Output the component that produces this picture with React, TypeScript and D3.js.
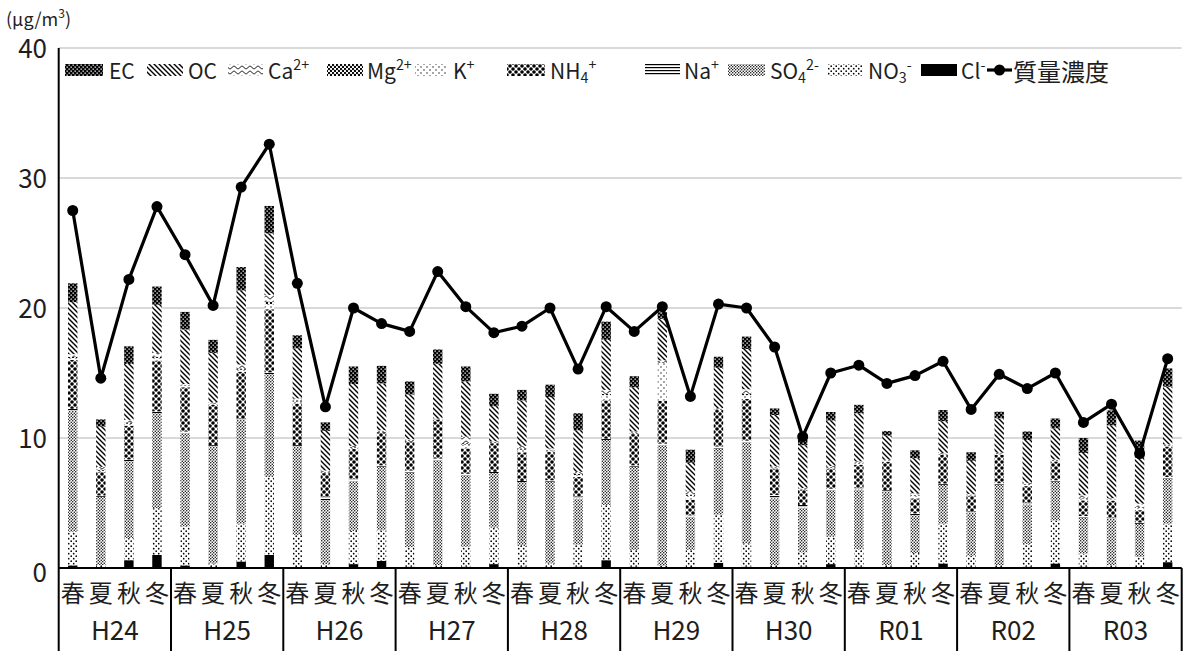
import React from 'react';
import * as d3 from 'd3';

// Season and fiscal-year labels for the two-level category axis
const seasons = ['春', '夏', '秋', '冬'];
const years = ['H24', 'H25', 'H26', 'H27', 'H28', 'H29', 'H30', 'R01', 'R02', 'R03'];
const yTicks = [0, 10, 20, 30, 40];

// Component concentrations (µg/m³), one value per season, H24 spring → R03 winter
const cl = [0.2, 0.03, 0.6, 1.0, 0.2, 0.05, 0.5, 1.0, 0.05, 0.0, 0.3, 0.55, 0.1, 0.02, 0.1, 0.3, 0.1, 0.05, 0.1, 0.6, 0.1, 0.02, 0.05, 0.4, 0.1, 0.02, 0.1, 0.3, 0.1, 0.03, 0.05, 0.35, 0.05, 0.02, 0.1, 0.35, 0.1, 0.02, 0.05, 0.45];
const no3 = [2.6, 0.2, 1.7, 3.6, 3.0, 0.3, 2.9, 6.0, 2.5, 0.3, 2.55, 2.35, 1.5, 0.2, 1.55, 2.8, 1.6, 0.3, 1.7, 4.25, 1.3, 0.15, 1.35, 3.7, 1.8, 0.2, 1.1, 2.1, 1.35, 0.2, 1.1, 3.05, 0.9, 0.2, 1.75, 3.3, 1.0, 0.2, 0.8, 2.95];
const so4 = [9.3, 5.25, 5.9, 7.3, 7.2, 9.0, 8.0, 7.9, 6.8, 4.9, 3.85, 4.9, 5.75, 8.1, 5.5, 4.2, 4.9, 6.3, 3.55, 5.0, 6.4, 9.3, 2.55, 5.1, 7.8, 5.15, 3.45, 3.6, 4.6, 5.65, 2.9, 3.0, 3.3, 6.2, 3.05, 3.0, 2.8, 3.55, 2.55, 3.5];
const na = [0.15, 0.1, 0.15, 0.15, 0.1, 0.1, 0.1, 0.15, 0.1, 0.3, 0.15, 0.1, 0.15, 0.1, 0.1, 0.1, 0.1, 0.1, 0.15, 0.1, 0.1, 0.1, 0.1, 0.15, 0.1, 0.25, 0.2, 0.1, 0.1, 0.1, 0.15, 0.1, 0.1, 0.1, 0.1, 0.1, 0.1, 0.1, 0.1, 0.1];
const nh4 = [3.75, 1.8, 2.6, 3.9, 3.4, 3.1, 3.6, 4.85, 3.2, 1.8, 2.3, 2.55, 2.25, 3.0, 1.95, 2.2, 2.2, 2.2, 1.5, 2.95, 2.4, 3.3, 1.2, 2.8, 3.2, 2.0, 1.15, 1.55, 1.8, 2.2, 1.15, 2.2, 1.2, 2.2, 1.3, 1.45, 1.2, 1.3, 0.95, 2.35];
const k = [0.15, 0.1, 0.15, 0.2, 0.1, 0.05, 0.15, 0.4, 0.15, 0.05, 0.1, 0.05, 0.05, 0.02, 0.3, 0.05, 0.2, 0.1, 0.15, 0.4, 0.05, 2.9, 0.3, 0.05, 0.3, 0.05, 0.05, 0.05, 0.1, 0.05, 0.2, 0.05, 0.05, 0.05, 0.1, 0.05, 0.15, 0.05, 0.2, 0.05];
const mg = [0.1, 0.1, 0.1, 0.1, 0.05, 0.05, 0.1, 0.2, 0.1, 0.05, 0.05, 0.05, 0.05, 0.02, 0.1, 0.05, 0.1, 0.05, 0.1, 0.1, 0.05, 0.05, 0.1, 0.05, 0.1, 0.05, 0.05, 0.05, 0.05, 0.05, 0.05, 0.05, 0.05, 0.05, 0.05, 0.05, 0.05, 0.05, 0.05, 0.05];
const ca = [0.2, 0.2, 0.2, 0.3, 0.1, 0.1, 0.3, 0.5, 0.15, 0.1, 0.1, 0.05, 0.05, 0.05, 0.5, 0.05, 0.2, 0.1, 0.15, 0.3, 0.1, 0.15, 0.25, 0.05, 0.35, 0.1, 0.05, 0.1, 0.1, 0.05, 0.15, 0.05, 0.05, 0.05, 0.1, 0.05, 0.2, 0.1, 0.25, 0.05];
const oc = [4.0, 3.1, 4.3, 3.7, 4.2, 3.8, 5.7, 4.75, 3.85, 3.05, 4.75, 3.6, 3.45, 4.2, 4.25, 2.7, 3.5, 3.95, 3.2, 3.85, 3.4, 3.2, 2.2, 3.1, 3.1, 3.95, 3.3, 3.5, 3.7, 1.85, 2.7, 2.45, 2.55, 2.65, 3.3, 2.4, 3.25, 5.6, 3.55, 4.45];
const ec = [1.45, 0.55, 1.35, 1.4, 1.35, 1.0, 1.8, 2.1, 1.0, 0.65, 1.35, 1.35, 1.0, 1.1, 1.15, 0.95, 0.8, 0.95, 1.3, 1.4, 0.85, 0.5, 1.0, 0.85, 0.95, 0.5, 0.65, 0.65, 0.65, 0.35, 0.6, 0.85, 0.65, 0.5, 0.65, 0.75, 1.15, 1.15, 1.3, 1.4];
// Total mass concentration (µg/m³)
const mass = [27.5, 14.6, 22.2, 27.8, 24.1, 20.2, 29.3, 32.6, 21.9, 12.4, 20.0, 18.8, 18.2, 22.8, 20.1, 18.1, 18.6, 20.0, 15.3, 20.1, 18.2, 20.1, 13.2, 20.3, 20.0, 17.0, 10.1, 15.0, 15.6, 14.2, 14.8, 15.9, 12.2, 14.9, 13.8, 15.0, 11.2, 12.6, 8.8, 16.1];

const series = { cl, no3, so4, na, nh4, k, mg, ca, oc, ec };
type Key = keyof typeof series;
// Stacking order, bottom to top
const stackKeys: Key[] = ['cl', 'no3', 'so4', 'na', 'nh4', 'k', 'mg', 'ca', 'oc', 'ec'];

const W = 1194;
const H = 654;
const M = { left: 58.7, right: 1181.7, top: 48, bottom: 568, axisBottom: 651 };
const FONT = '"Noto Sans CJK JP", "Noto Sans", sans-serif';
const TEXT = '#1e1e1e';

type LabelPart = { t: string; sup?: boolean; sub?: boolean };
const legendItems: { key: Key | 'mass'; parts: LabelPart[]; sx: number; sw: number; tx: number }[] = [
  { key: 'ec', parts: [{ t: 'EC' }], sx: 65, sw: 38, tx: 109 },
  { key: 'oc', parts: [{ t: 'OC' }], sx: 147, sw: 36, tx: 188 },
  { key: 'ca', parts: [{ t: 'Ca' }, { t: '2+', sup: true }], sx: 228, sw: 35, tx: 268 },
  { key: 'mg', parts: [{ t: 'Mg' }, { t: '2+', sup: true }], sx: 327, sw: 36, tx: 367 },
  { key: 'k', parts: [{ t: 'K' }, { t: '+', sup: true }], sx: 415, sw: 32, tx: 453 },
  { key: 'nh4', parts: [{ t: 'NH' }, { t: '4', sub: true }, { t: '+', sup: true }], sx: 507, sw: 38, tx: 550 },
  { key: 'na', parts: [{ t: 'Na' }, { t: '+', sup: true }], sx: 645, sw: 35, tx: 684 },
  { key: 'so4', parts: [{ t: 'SO' }, { t: '4', sub: true }, { t: '2-', sup: true }], sx: 728, sw: 37, tx: 770 },
  { key: 'no3', parts: [{ t: 'NO' }, { t: '3', sub: true }, { t: '-', sup: true }], sx: 828, sw: 35, tx: 868 },
  { key: 'cl', parts: [{ t: 'Cl' }, { t: '-', sup: true }], sx: 921, sw: 36, tx: 961 },
  { key: 'mass', parts: [{ t: '質量濃度' }], sx: 987, sw: 25, tx: 1013 },
];

function Patterns() {
  return (
    <defs>
      <pattern id="p-ec" width={4} height={4} patternUnits="userSpaceOnUse">
        <rect width={4} height={4} fill="#000" />
        <rect x={0.5} y={0.5} width={1.3} height={1.3} fill="#fff" />
        <rect x={2.5} y={2.5} width={1.3} height={1.3} fill="#fff" />
      </pattern>
      <pattern id="p-oc" width={5} height={5} patternUnits="userSpaceOnUse">
        <rect width={5} height={5} fill="#fff" />
        <path d="M-1,-1 L6,6 M-1,4 L1,6 M4,-1 L6,1" stroke="#000" strokeWidth={1.4} />
      </pattern>
      <pattern id="p-ca" width={8} height={5} patternUnits="userSpaceOnUse">
        <rect width={8} height={5} fill="#fff" />
        <path d="M0,2.5 C2,0.6 2,0.6 4,2.5 S6,4.4 8,2.5" fill="none" stroke="#000" strokeWidth={0.9} />
      </pattern>
      <pattern id="p-mg" width={4} height={4} patternUnits="userSpaceOnUse">
        <rect width={4} height={4} fill="#fff" />
        <circle cx={1} cy={1} r={1.15} fill="#000" />
        <circle cx={3} cy={3} r={1.15} fill="#000" />
      </pattern>
      <pattern id="p-k" width={6} height={6} patternUnits="userSpaceOnUse">
        <rect width={6} height={6} fill="#fff" />
        <circle cx={1} cy={1} r={0.65} fill="#000" />
        <circle cx={4} cy={4} r={0.65} fill="#000" />
      </pattern>
      <pattern id="p-nh4" width={6} height={6} patternUnits="userSpaceOnUse">
        <rect width={6} height={6} fill="#fff" />
        <circle cx={0} cy={0} r={1.8} fill="#000" />
        <circle cx={6} cy={0} r={1.8} fill="#000" />
        <circle cx={0} cy={6} r={1.8} fill="#000" />
        <circle cx={6} cy={6} r={1.8} fill="#000" />
        <circle cx={3} cy={3} r={1.8} fill="#000" />
      </pattern>
      <pattern id="p-na" width={4} height={3} patternUnits="userSpaceOnUse">
        <rect width={4} height={3} fill="#fff" />
        <rect x={0} y={1} width={4} height={1.2} fill="#000" />
      </pattern>
      <pattern id="p-so4" width={3} height={3} patternUnits="userSpaceOnUse">
        <rect width={3} height={3} fill="#fff" />
        <circle cx={0.75} cy={0.75} r={0.72} fill="#000" />
        <circle cx={2.25} cy={2.25} r={0.72} fill="#000" />
      </pattern>
      <pattern id="p-no3" width={5} height={5} patternUnits="userSpaceOnUse">
        <rect width={5} height={5} fill="#fff" />
        <circle cx={1.2} cy={1.2} r={0.85} fill="#000" />
        <circle cx={3.7} cy={3.7} r={0.85} fill="#000" />
      </pattern>
    </defs>
  );
}

const fillFor = (key: Key) => (key === 'cl' ? '#000' : `url(#p-${key})`);

function Label({ parts, x, y, size }: { parts: LabelPart[]; x: number; y: number; size: number }) {
  // Sub/superscripts are positioned with dy and reset afterwards
  const nodes: React.ReactNode[] = [];
  let shift = 0;
  parts.forEach((p, i) => {
    const target = p.sup ? -size * 0.32 : p.sub ? size * 0.3 : 0;
    nodes.push(
      <tspan key={i} dy={target - shift} fontSize={p.sup || p.sub ? size * 0.68 : size}>
        {p.t}
      </tspan>
    );
    shift = target;
  });
  return (
    <text x={x} y={y} fontFamily={FONT} fill={TEXT} dominantBaseline="central">
      {nodes}
    </text>
  );
}

export default function App() {
  const n = mass.length;
  const rows = d3.range(n).map((i) => {
    const r: Record<string, number> = {};
    stackKeys.forEach((key) => (r[key] = series[key][i]));
    return r;
  });
  const stacked = d3.stack<Record<string, number>>().keys(stackKeys)(rows);

  const x = d3
    .scaleBand<number>()
    .domain(d3.range(n))
    .range([M.left, M.right])
    .paddingInner(0.665)
    .paddingOuter(0.3325);
  const y = d3.scaleLinear().domain([0, 40]).range([M.bottom, M.top]);
  const cx = (i: number) => (x(i) as number) + x.bandwidth() / 2;
  const step = x.step();

  const line = d3
    .line<number>()
    .x((_, i) => cx(i))
    .y((d) => y(d));

  const groupW = step * seasons.length;

  return (
    <svg
      width={W}
      height={H}
      style={{ position: 'absolute', left: 0, top: 0, background: '#fff' }}
    >
      <Patterns />
      <rect width={W} height={H} fill="#fff" />

      {/* unit */}
      <text x={6} y={18} fontFamily={FONT} fontSize={18} fill={TEXT} dominantBaseline="central">
        (μg/m<tspan dy={-6} fontSize={12}>3</tspan>
        <tspan dy={6}>)</tspan>
      </text>

      {/* gridlines */}
      {yTicks
        .filter((t) => t > 0)
        .map((t) => (
          <line key={t} x1={M.left} x2={M.right} y1={y(t)} y2={y(t)} stroke="#d9d9d9" strokeWidth={2} />
        ))}

      {/* y tick labels */}
      {yTicks.map((t) => (
        <text
          key={t}
          x={47}
          y={y(t) + (t === 0 ? 2 : -2)}
          textAnchor="end"
          dominantBaseline="central"
          fontFamily={FONT}
          fontSize={26}
          fill={TEXT}
        >
          {t}
        </text>
      ))}

      {/* stacked bars */}
      {stacked.map((layer) => (
        <g key={layer.key} fill={fillFor(layer.key as Key)}>
          {layer.map((d, i) => {
            const h = y(d[0]) - y(d[1]);
            if (h <= 0) return null;
            return <rect key={i} x={x(i)} y={y(d[1])} width={x.bandwidth()} height={h} />;
          })}
        </g>
      ))}

      {/* axes */}
      <line x1={M.left} x2={M.left} y1={M.top} y2={M.axisBottom} stroke="#000" strokeWidth={2} />
      <line x1={M.left} x2={M.right} y1={M.bottom} y2={M.bottom} stroke="#000" strokeWidth={2} />
      {years.map((_, g) => (
        <line
          key={g}
          x1={M.left + groupW * (g + 1)}
          x2={M.left + groupW * (g + 1)}
          y1={M.bottom}
          y2={M.axisBottom}
          stroke="#000"
          strokeWidth={2}
        />
      ))}

      {/* category labels */}
      {d3.range(n).map((i) => (
        <text
          key={i}
          x={cx(i)}
          y={591}
          textAnchor="middle"
          dominantBaseline="central"
          fontFamily={FONT}
          fontSize={24}
          fill={TEXT}
        >
          {seasons[i % seasons.length]}
        </text>
      ))}
      {years.map((yr, g) => (
        <text
          key={yr}
          x={M.left + groupW * (g + 0.5)}
          y={628}
          textAnchor="middle"
          dominantBaseline="central"
          fontFamily={FONT}
          fontSize={26}
          fill={TEXT}
        >
          {yr}
        </text>
      ))}

      {/* mass concentration line */}
      <path d={line(mass) ?? ''} fill="none" stroke="#000" strokeWidth={3.2} strokeLinejoin="round" />
      {mass.map((v, i) => (
        <circle key={i} cx={cx(i)} cy={y(v)} r={5.5} fill="#000" />
      ))}

      {/* legend */}
      {legendItems.map((it) => (
        <g key={it.key}>
          {it.key === 'mass' ? (
            <g>
              <line x1={it.sx} x2={it.sx + it.sw} y1={70} y2={70} stroke="#000" strokeWidth={3.2} />
              <circle cx={it.sx + it.sw / 2} cy={70} r={5.5} fill="#000" />
            </g>
          ) : (
            <rect x={it.sx} y={64} width={it.sw} height={12} fill={fillFor(it.key as Key)} />
          )}
          <Label parts={it.parts} x={it.tx} y={70} size={it.key === 'mass' ? 24 : 21} />
        </g>
      ))}
    </svg>
  );
}
